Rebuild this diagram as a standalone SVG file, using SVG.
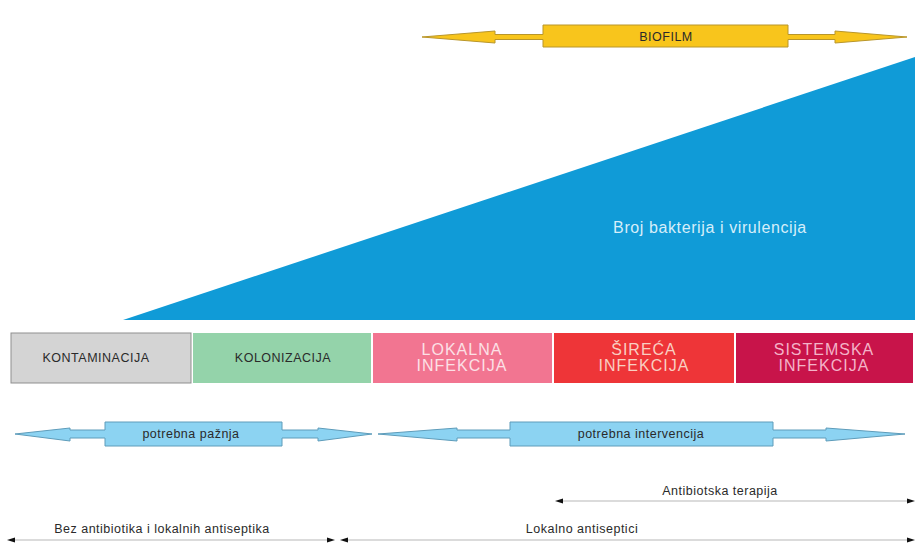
<svg xmlns="http://www.w3.org/2000/svg" width="916" height="547" viewBox="0 0 916 547">
<defs>
<style>
.t{font-family:"Liberation Sans",Arial,sans-serif;}
.sm{font-size:12.5px;letter-spacing:0.5px;fill:#2a2a2a;text-anchor:middle;}
.big{font-size:16px;letter-spacing:1px;text-anchor:middle;}
.yl{fill:#F8C51C;stroke:#B9962A;stroke-width:1;}
.bl{fill:#8CD3F2;stroke:#5E9CBA;stroke-width:1;}
.ln{stroke:#cfcfcf;stroke-width:1.5;fill:none;}
.ah{fill:#111;}
</style>
</defs>
<rect width="916" height="547" fill="#ffffff"/>

<g id="triangle">
<polygon points="123,320 915,57 915,320" fill="#109BD7"/>
<text class="t" x="710" y="233" font-size="16" letter-spacing="0.6" fill="#D6EEFA" text-anchor="middle">Broj bakterija i virulencija</text>
</g>

<g id="biofilm">
<polygon class="yl" points="422,37 495,31 495,34.5 543,34.5 543,25 788,25 788,34.5 835,34.5 835,31 907,37 835,43 835,39.5 788,39.5 788,47 543,47 543,39.5 495,39.5 495,43"/>
<text class="t sm" x="666" y="41" fill="#5a4a10">BIOFILM</text>
</g>

<g id="kontaminacija">
<rect x="11" y="333" width="180" height="50" fill="#D4D4D4" stroke="#8f8f8f" stroke-width="1"/>
<text class="t sm" x="96" y="362">KONTAMINACIJA</text>
</g>
<g id="kolonizacija">
<rect x="193" y="333" width="178" height="50" fill="#94D3AA"/>
<text class="t sm" x="283" y="362" fill="#1f3a25">KOLONIZACIJA</text>
</g>
<g id="lokalna">
<rect x="373" y="333" width="179" height="50" fill="#F27591"/>
<text class="t big" x="462" y="355" fill="#FCE0E6">LOKALNA</text>
<text class="t big" x="462" y="371" fill="#FCE0E6">INFEKCIJA</text>
</g>
<g id="sireca">
<rect x="554" y="333" width="180" height="50" fill="#EE3538"/>
<text class="t big" x="644" y="355" fill="#F9CFC2">ŠIREĆA</text>
<text class="t big" x="644" y="371" fill="#F9CFC2">INFEKCIJA</text>
</g>
<g id="sistemska">
<rect x="736" y="333" width="177" height="50" fill="#C8144A"/>
<text class="t big" x="824" y="355" fill="#F4B3C8">SISTEMSKA</text>
<text class="t big" x="824" y="371" fill="#F4B3C8">INFEKCIJA</text>
</g>

<g id="paznja">
<polygon class="bl" points="15,434 70,428 70,430 105,430 105,422 282,422 282,430 318,430 318,428 372,434 318,441 318,438 282,438 282,446 105,446 105,438 70,438 70,441"/>
<text class="t sm" x="191" y="438">potrebna pažnja</text>
</g>

<g id="intervencija">
<polygon class="bl" points="378,434 457,428 457,430 510,430 510,422 773,422 773,430 826,430 826,428 905,434 826,441 826,438 773,438 773,446 510,446 510,438 457,438 457,441"/>
<text class="t sm" x="641" y="438">potrebna intervencija</text>
</g>

<g id="connectors">
<line class="ln" x1="558" y1="501" x2="912" y2="501"/>
<polygon class="ah" points="555,501 563,498.5 563,503.5"/>
<polygon class="ah" points="915,501 907,498.5 907,503.5"/>
<line class="ln" x1="10" y1="540" x2="332" y2="540"/>
<polygon class="ah" points="7,540 15,537.5 15,542.5"/>
<polygon class="ah" points="335,540 327,537.5 327,542.5"/>
<line class="ln" x1="343" y1="540" x2="912" y2="540"/>
<polygon class="ah" points="340,540 348,537.5 348,542.5"/>
<polygon class="ah" points="915,540 907,537.5 907,542.5"/>
</g>

<g id="labels">
<text class="t sm" x="720" y="495" fill="#333">Antibiotska terapija</text>
<text class="t sm" x="162" y="533" fill="#333">Bez antibiotika i lokalnih antiseptika</text>
<text class="t sm" x="582" y="533" fill="#333">Lokalno antiseptici</text>
</g>
</svg>
